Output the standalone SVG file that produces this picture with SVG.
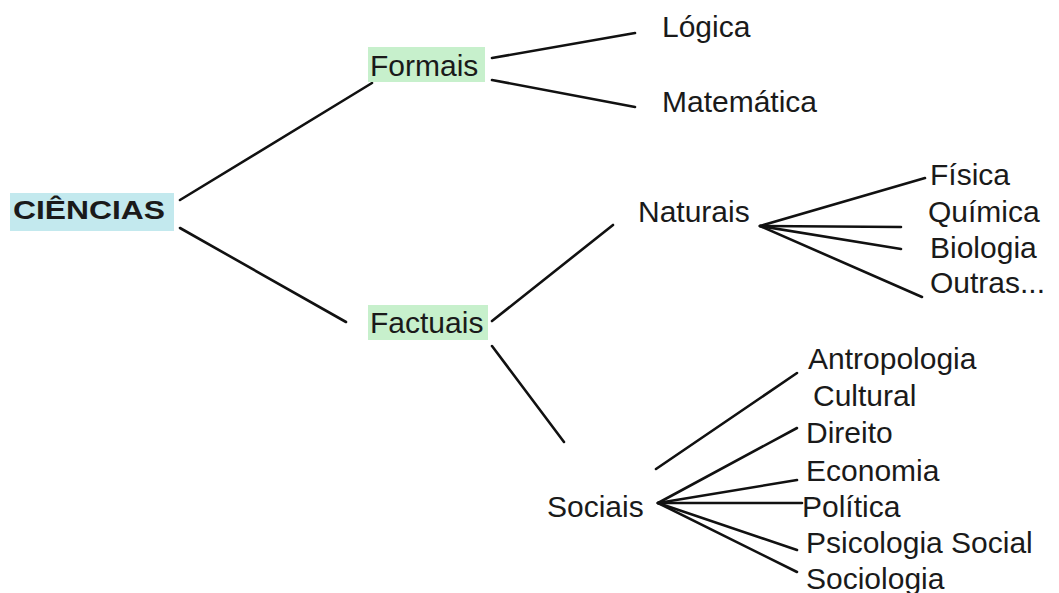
<svg xmlns="http://www.w3.org/2000/svg" width="1059" height="593" viewBox="0 0 1059 593">
<style>
text{font-family:"Liberation Sans",Arial,sans-serif;font-size:30px;fill:#1a1a1a}
.b{font-weight:bold;font-size:26px}
.ln{stroke:#111;stroke-width:2.6;fill:none;stroke-linecap:round}
</style>
<rect width="1059" height="593" fill="#fff"/>
<g id="connectors" class="ln">
<line x1="180" y1="200" x2="372" y2="83"/>
<line x1="180" y1="228" x2="346" y2="322"/>
<line x1="492" y1="58" x2="635" y2="33"/>
<line x1="492" y1="80" x2="635" y2="107"/>
<line x1="492" y1="321" x2="613" y2="225"/>
<line x1="492" y1="346" x2="564" y2="442"/>
<line x1="760" y1="226" x2="925" y2="178"/>
<line x1="760" y1="226" x2="901" y2="227"/>
<line x1="760" y1="226" x2="901" y2="249"/>
<line x1="760" y1="226" x2="922" y2="297"/>
<line x1="656" y1="469" x2="797" y2="373"/>
<line x1="658" y1="503" x2="797" y2="428"/>
<line x1="658" y1="503" x2="797" y2="480"/>
<line x1="658" y1="503" x2="802" y2="503"/>
<line x1="658" y1="503" x2="797" y2="550"/>
<line x1="658" y1="503" x2="797" y2="572"/>
</g>
<g id="ciencias"><rect x="10" y="193" width="164" height="38" fill="#c3e9ee"/><text class="b" x="13" y="219" textLength="152" lengthAdjust="spacingAndGlyphs">CIÊNCIAS</text></g>
<g id="formais"><rect x="368" y="47" width="117" height="35" fill="#c7f0cc"/><text x="370" y="76">Formais</text></g>
<g id="factuais"><rect x="368" y="305" width="120" height="35" fill="#c7f0cc"/><text x="370" y="333">Factuais</text></g>
<g id="logica"><text x="662" y="37">Lógica</text></g>
<g id="matematica"><text x="662" y="112">Matemática</text></g>
<g id="naturais"><text x="638" y="222">Naturais</text></g>
<g id="fisica"><text x="930" y="185">Física</text></g>
<g id="quimica"><text x="928" y="222">Química</text></g>
<g id="biologia"><text x="930" y="258">Biologia</text></g>
<g id="outras"><text x="930" y="293">Outras...</text></g>
<g id="sociais"><text x="547" y="517">Sociais</text></g>
<g id="antropologia"><text x="808" y="369">Antropologia</text><text x="813" y="406">Cultural</text></g>
<g id="direito"><text x="806" y="443">Direito</text></g>
<g id="economia"><text x="806" y="481">Economia</text></g>
<g id="politica"><text x="802" y="517">Política</text></g>
<g id="psicologia"><text x="806" y="553">Psicologia Social</text></g>
<g id="sociologia"><text x="806" y="589">Sociologia</text></g>
</svg>
